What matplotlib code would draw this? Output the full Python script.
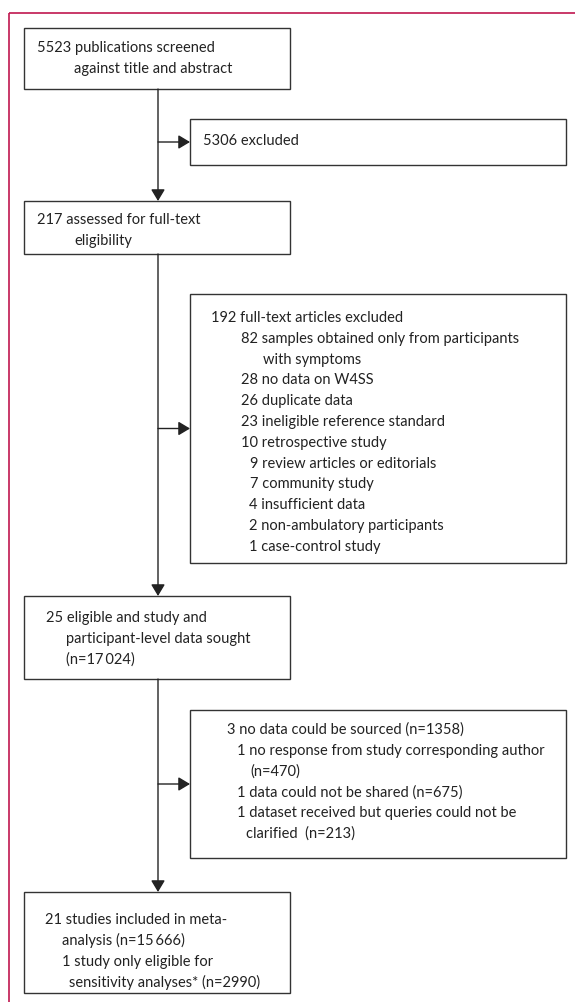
import matplotlib.pyplot as plt
from matplotlib.patches import Rectangle

plt.rcParams['font.family'] = ['Lato', 'DejaVu Sans']

# flowchart text, one list per box
screened = ["5523 publications screened", "against title and abstract"]
excluded_1 = ["5306 excluded"]
assessed = ["217 assessed for full-text", "eligibility"]
excluded_2 = ["192 full-text articles excluded",
              "82 samples obtained only from participants",
              "with symptoms",
              "28 no data on W4SS",
              "26 duplicate data",
              "23 ineligible reference standard",
              "10 retrospective study",
              "9 review articles or editorials",
              "7 community study",
              "4 insufficient data",
              "2 non-ambulatory participants",
              "1 case-control study"]
sought = ["25 eligible and study and",
          "participant-level data sought",
          "(n=17\u2009024)"]
no_data = ["3 no data could be sourced (n=1358)",
           "1 no response from study corresponding author",
           "(n=470)",
           "1 data could not be shared (n=675)",
           "1 dataset received but queries could not be",
           "clarified  (n=213)"]
included = ["21 studies included in meta-",
            "analysis (n=15\u2009666)",
            "1 study only eligible for",
            "sensitivity analyses* (n=2990)"]

# layout in pixels: box (x0, y0, x1, y1), text x per line, first line y
main_boxes = [
    ((24, 28, 290, 89), screened, [37, 74], 48),
    ((24, 201, 290, 254), assessed, [37, 74], 220),
    ((24, 596, 290, 679), sought, [46, 66, 66], 618),
    ((24, 892, 290, 993), included, [45, 62, 62, 69], 920),
]
side_boxes = [
    ((190, 119, 566, 165), excluded_1, [203], 141),
    ((190, 294, 566, 563), excluded_2,
     [211, 241, 263, 241, 241, 241, 241, 250, 250, 249, 249, 249], 318),
    ((190, 710, 566, 858), no_data, [227, 237, 250, 237, 237, 246], 730),
]
line_step = 20.8
spine_x = 158
edge = '#333333'

fig = plt.figure(figsize=(5.75, 10.02), dpi=100)
ax = fig.add_axes([0, 0, 1, 1])
ax.set_xlim(0, 575)
ax.set_ylim(1002, 0)
ax.axis('off')

# outer frame (top and left rule)
ax.plot([9, 575], [13, 13], color='#c0174f', lw=1.2, solid_capstyle='butt')
ax.plot([9, 9], [13, 1002], color='#c0174f', lw=1.2, solid_capstyle='butt')

for (x0, y0, x1, y1), lines, xs, ty in main_boxes + side_boxes:
    ax.add_patch(Rectangle((x0, y0), x1 - x0, y1 - y0, fill=False,
                           edgecolor=edge, lw=1.0))
    for i, (s, tx) in enumerate(zip(lines, xs)):
        ax.text(tx, ty + i * line_step, s, fontsize=10.5, color='#222222',
                va='center', ha='left')

arrow = dict(arrowstyle='-|>,head_length=0.5,head_width=0.3',
             mutation_scale=14, color='#222222', lw=1.0,
             shrinkA=0, shrinkB=0)

for k in range(len(main_boxes) - 1):
    top = main_boxes[k][0][3]
    bottom = main_boxes[k + 1][0][1]
    ax.annotate('', xy=(spine_x, bottom), xytext=(spine_x, top),
                arrowprops=arrow)
    sb = side_boxes[k][0]
    ym = (sb[1] + sb[3]) / 2
    ax.annotate('', xy=(sb[0], ym), xytext=(spine_x, ym), arrowprops=arrow)

fig.savefig('out.png', dpi=100)
